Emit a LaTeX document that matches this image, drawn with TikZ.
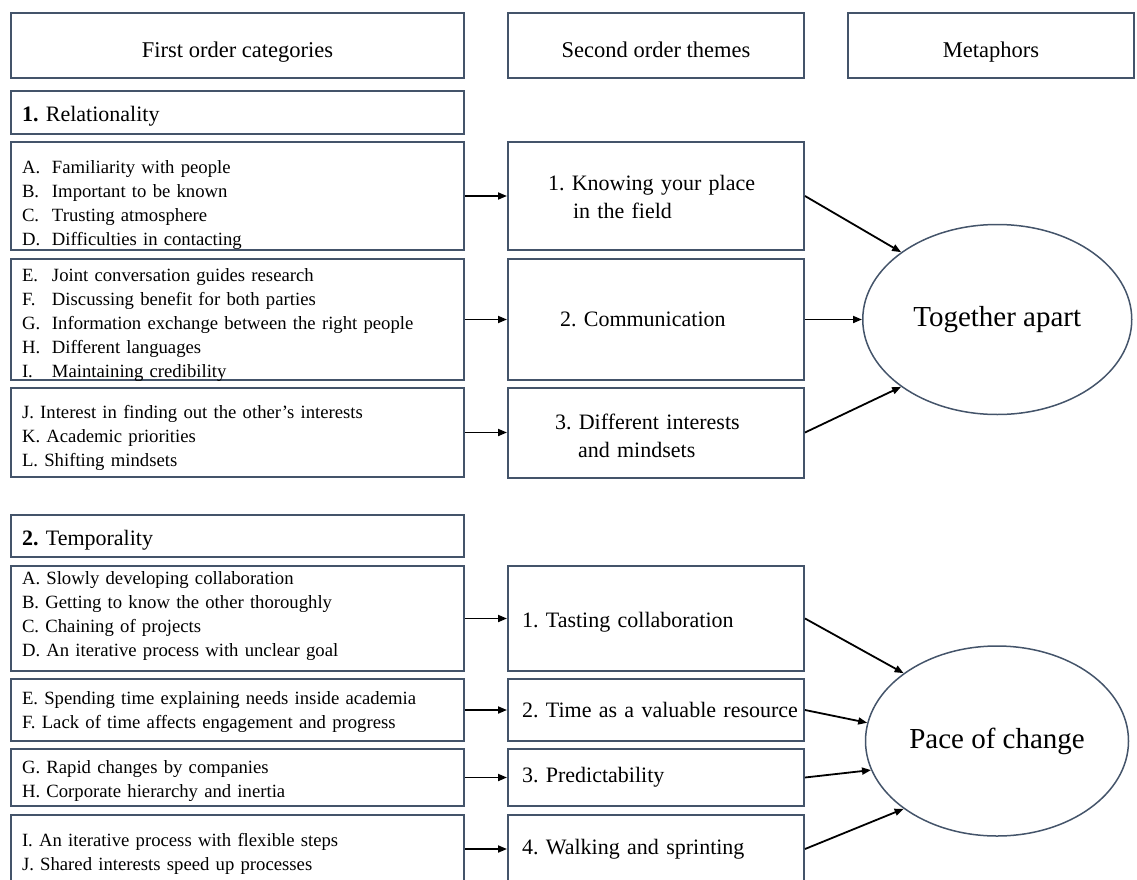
\documentclass[tikz,border=0pt]{standalone}
\usepackage{fontspec}
\setmainfont{Liberation Serif}
\usetikzlibrary{positioning,shapes.geometric,arrows.meta}
\definecolor{slate}{RGB}{68,84,106}
\newcommand{\tabitem}[2]{\makebox[30pt][l]{#1}#2}
\begin{document}
\begin{tikzpicture}[
  x=1pt, y=-1pt,
  box/.style={rectangle, draw=slate, line width=2pt, inner ysep=2pt},
  head/.style={box, minimum height=65pt, text height=30pt, text depth=5pt, font=\fontsize{22.5}{27}\selectfont},
  cat/.style 2 args={box, text width=431pt, inner xsep=11pt, align=left, text height=#1, text depth=#2, font=\fontsize{18.7}{24}\selectfont},
  group/.style={cat={19pt}{1pt}, minimum height=43pt, font=\fontsize{22}{26}\selectfont},
  theme/.style={box, align=left, font=\fontsize{22}{28}\selectfont},
  meta/.style={ellipse, draw=slate, line width=1.5pt, minimum width=269pt, minimum height=190pt, font=\fontsize{29}{34}\selectfont},
  link/.style={->, line width=1.8pt},
  >={Triangle[length=9pt,width=7pt]}
]
\useasboundingbox (0,0) rectangle (1137,880);

\node[head, minimum width=453pt, anchor=north west] (hfirst) at (10,12) {First order categories};
\node[head, minimum width=296pt, right=42pt of hfirst] (hsecond) {Second order themes};
\node[head, minimum width=286pt, right=42pt of hsecond] (hmeta) {Metaphors};

\node[group, below=11pt of hfirst] (rel) {\textbf{1.}~Relationality};
\node[cat={22pt}{68pt}, minimum height=108pt, below=6pt of rel] (relA) {\tabitem{A.}{Familiarity with people}\\\tabitem{B.}{Important to be known}\\\tabitem{C.}{Trusting atmosphere}\\\tabitem{D.}{Difficulties in contacting}};
\node[cat={19pt}{95pt}, minimum height=121pt, below=7pt of relA] (relB) {\tabitem{E.}{Joint conversation guides research}\\\tabitem{F.}{Discussing benefit for both parties}\\\tabitem{G.}{Information exchange between the right people}\\\tabitem{H.}{Different languages}\\\tabitem{I.}{Maintaining credibility}};
\node[cat={19pt}{47pt}, minimum height=89pt, below=6pt of relB] (relC) {J. Interest in finding out the other’s interests\\K. Academic priorities\\L. Shifting mindsets};

\node[group, minimum height=42pt, below=36pt of relC] (tem) {\textbf{2.}~Temporality};
\node[cat={11pt}{79pt}, minimum height=105pt, below=7pt of tem] (temA) {A. Slowly developing collaboration\\B. Getting to know the other thoroughly\\C. Chaining of projects\\D. An iterative process with unclear goal};
\node[cat={15pt}{27pt}, minimum height=62pt, below=6pt of temA] (temB) {E. Spending time explaining needs inside academia\\F. Lack of time affects engagement and progress};
\node[cat={17pt}{25pt}, minimum height=57pt, below=6pt of temB] (temC) {G. Rapid changes by companies\\H. Corporate hierarchy and inertia};
\node[cat={18pt}{24pt}, minimum height=68pt, below=7pt of temC] (temD) {I. An iterative process with flexible steps\\J. Shared interests speed up processes};

\node[theme, minimum height=108pt, inner xsep=40pt, text width=216pt, text height=18pt, text depth=30pt, right=42pt of relA] (knowing) {1.~Knowing your place\\\hspace*{25pt}in the field};
\node[theme, minimum height=121pt, inner xsep=52pt, text width=192pt, right=42pt of relB] (communication) {2.~Communication};
\node[theme, minimum height=90pt, inner xsep=47pt, text width=202pt, text height=21pt, text depth=27pt, right=42pt of relC] (interests) {3.~Different interests\\\hspace*{23pt}and mindsets};

\node[theme, minimum height=105pt, inner xsep=14pt, text width=268pt, text height=19pt, text depth=1pt, right=42pt of temA] (tasting) {1.~Tasting collaboration};
\node[theme, minimum height=62pt, inner xsep=14pt, text width=268pt, right=42pt of temB] (resource) {\mbox{2.~Time as a valuable resource}};
\node[theme, minimum height=57pt, inner xsep=14pt, text width=268pt, right=42pt of temC] (predict) {3.~Predictability};
\node[theme, minimum height=68pt, inner xsep=14pt, text width=268pt, right=42pt of temD] (walking) {4.~Walking and sprinting};

\node[meta, right=57pt of communication] (together) {Together apart};
\node[meta, minimum width=263pt] (pace) at (997,741) {Pace of change};

\draw[link] (relA) -- (knowing);
\draw[link] (relB) -- (communication);
\draw[link] (relC) -- (interests);
\draw[link] (temA) -- (tasting);
\draw[link] (temB) -- (resource);
\draw[link] (temC) -- (predict);
\draw[link] (temD) -- (walking);

\draw[link] (knowing.east) -- (together.145);
\draw[link] (communication) -- (together);
\draw[link] (interests.east) -- (together.215);
\draw[link] (tasting.east) -- (pace.144);
\draw[link] (resource.east) -- (pace.172);
\draw[link] (predict.east) -- (pace.193);
\draw[link] (walking.east) -- (pace.216);
\end{tikzpicture}
\end{document}
